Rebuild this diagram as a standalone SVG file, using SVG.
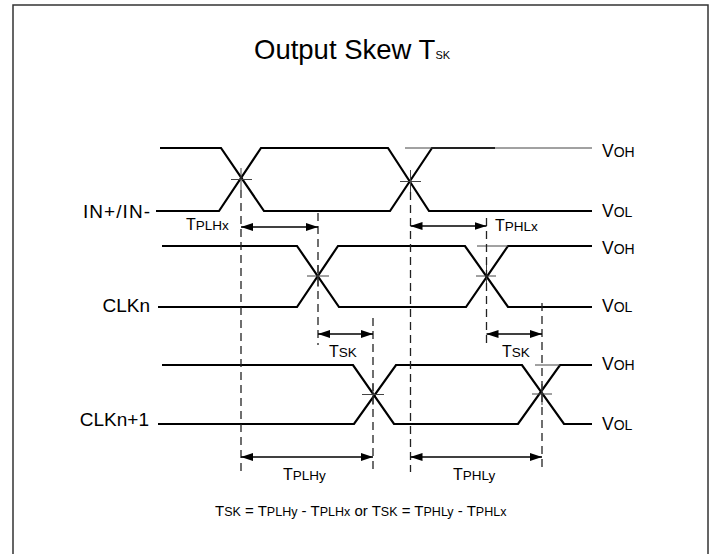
<svg xmlns="http://www.w3.org/2000/svg" width="712" height="554" viewBox="0 0 712 554">
<defs>
<style>
text{font-family:"Liberation Sans",Arial,sans-serif;fill:#000}
.lbl{font-size:16px}
.sub{font-size:13.5px}
.v{font-size:17.5px}
.vsub{font-size:14px}
.fx{font-size:15px}
.fsub{font-size:12.5px}
.sig{font-size:19px}
.wave{fill:none;stroke:#000;stroke-width:2.2}
.thin{fill:none;stroke:#444;stroke-width:1}
.dash{fill:none;stroke:#222;stroke-width:1.3;stroke-dasharray:8 5}
.arr{fill:none;stroke:#000;stroke-width:1.3;marker-start:url(#ah);marker-end:url(#ah)}
</style>
<marker id="ah" viewBox="0 0 12 8" refX="12" refY="4" markerWidth="12" markerHeight="8" markerUnits="userSpaceOnUse" orient="auto-start-reverse">
<path d="M0,0 L12,4 L0,8 Z" fill="#000"/>
</marker>
</defs>
<rect x="13" y="5" width="695" height="560" fill="#fff" stroke="#333" stroke-width="1.5"/>
<g id="title">
<text x="254" y="59" style="font-size:27.5px">Output Skew T<tspan style="font-size:11px">SK</tspan></text>
</g>
<g id="in">
<text class="sig" x="150" y="218" text-anchor="end" textLength="67" lengthAdjust="spacing">IN+/IN-</text>
<path class="wave" d="M160,148 H221 L264,211 H390 L432,148 H495"/>
<path class="wave" d="M156,211 H219 L261,148 H388 L429,211 H592"/>
<path class="thin" d="M405,148 H592"/>
<path class="thin" d="M231,179.5 H252 M241,168 V190 M400,181.5 H421 M410.5,170 V192"/>
<text class="v" x="602" y="157">V<tspan class="vsub">OH</tspan></text>
<text class="v" x="602" y="217">V<tspan class="vsub">OL</tspan></text>
</g>
<g id="clkn">
<text class="sig" x="150" y="312" text-anchor="end">CLKn</text>
<path class="wave" d="M162,246 H297 L339,307 H466 L508,246 H592"/>
<path class="wave" d="M158,307 H297 L338,246 H465 L508,307 H592"/>
<path class="thin" d="M477,246 H508"/>
<path class="thin" d="M307,276 H329 M318,265 V287 M476,276 H496 M486.5,265 V287"/>
<text class="v" x="602" y="254">V<tspan class="vsub">OH</tspan></text>
<text class="v" x="602" y="312">V<tspan class="vsub">OL</tspan></text>
</g>
<g id="clkn1">
<text class="sig" x="149" y="426" text-anchor="end">CLKn+1</text>
<path class="wave" d="M162,365 H353 L394,424 H518 L560,365 H592"/>
<path class="wave" d="M158,424 H354 L396,365 H522 L564,424 H592"/>
<path class="thin" d="M535,365 H560"/>
<path class="thin" d="M362,394.5 H384 M373,384 V405 M532,394 H552 M542,384 V405"/>
<text class="v" x="602" y="370">V<tspan class="vsub">OH</tspan></text>
<text class="v" x="602" y="430">V<tspan class="vsub">OL</tspan></text>
</g>
<g id="connectors">
<path class="dash" d="M241,190 V472"/>
<path class="dash" d="M318,213 V345"/>
<path class="dash" d="M410.5,192 V472"/>
<path class="dash" d="M486.5,218 V345"/>
<path class="dash" d="M373,318 V472"/>
<path class="dash" d="M542,303 V472"/>
<line class="arr" x1="241" y1="227" x2="318" y2="227"/>
<line class="arr" x1="410.5" y1="226" x2="486.5" y2="226"/>
<line class="arr" x1="318" y1="334" x2="373" y2="334"/>
<line class="arr" x1="486.5" y1="334" x2="542" y2="334"/>
<line class="arr" x1="241" y1="457" x2="373" y2="457"/>
<line class="arr" x1="410.5" y1="457" x2="542" y2="457"/>
</g>
<g id="labels">
<text class="lbl" x="186" y="230">T<tspan class="sub">PLHx</tspan></text>
<text class="lbl" x="495" y="231">T<tspan class="sub">PHLx</tspan></text>
<text class="lbl" x="329" y="357">T<tspan class="sub">SK</tspan></text>
<text class="lbl" x="502" y="357">T<tspan class="sub">SK</tspan></text>
<text class="lbl" x="283" y="480">T<tspan class="sub">PLHy</tspan></text>
<text class="lbl" x="453" y="480">T<tspan class="sub">PHLy</tspan></text>
<text class="fx" x="215" y="516">T<tspan class="fsub">SK</tspan> = T<tspan class="fsub">PLHy</tspan> - T<tspan class="fsub">PLHx</tspan> or T<tspan class="fsub">SK</tspan> = T<tspan class="fsub">PHLy</tspan> - T<tspan class="fsub">PHLx</tspan></text>
</g>
</svg>
